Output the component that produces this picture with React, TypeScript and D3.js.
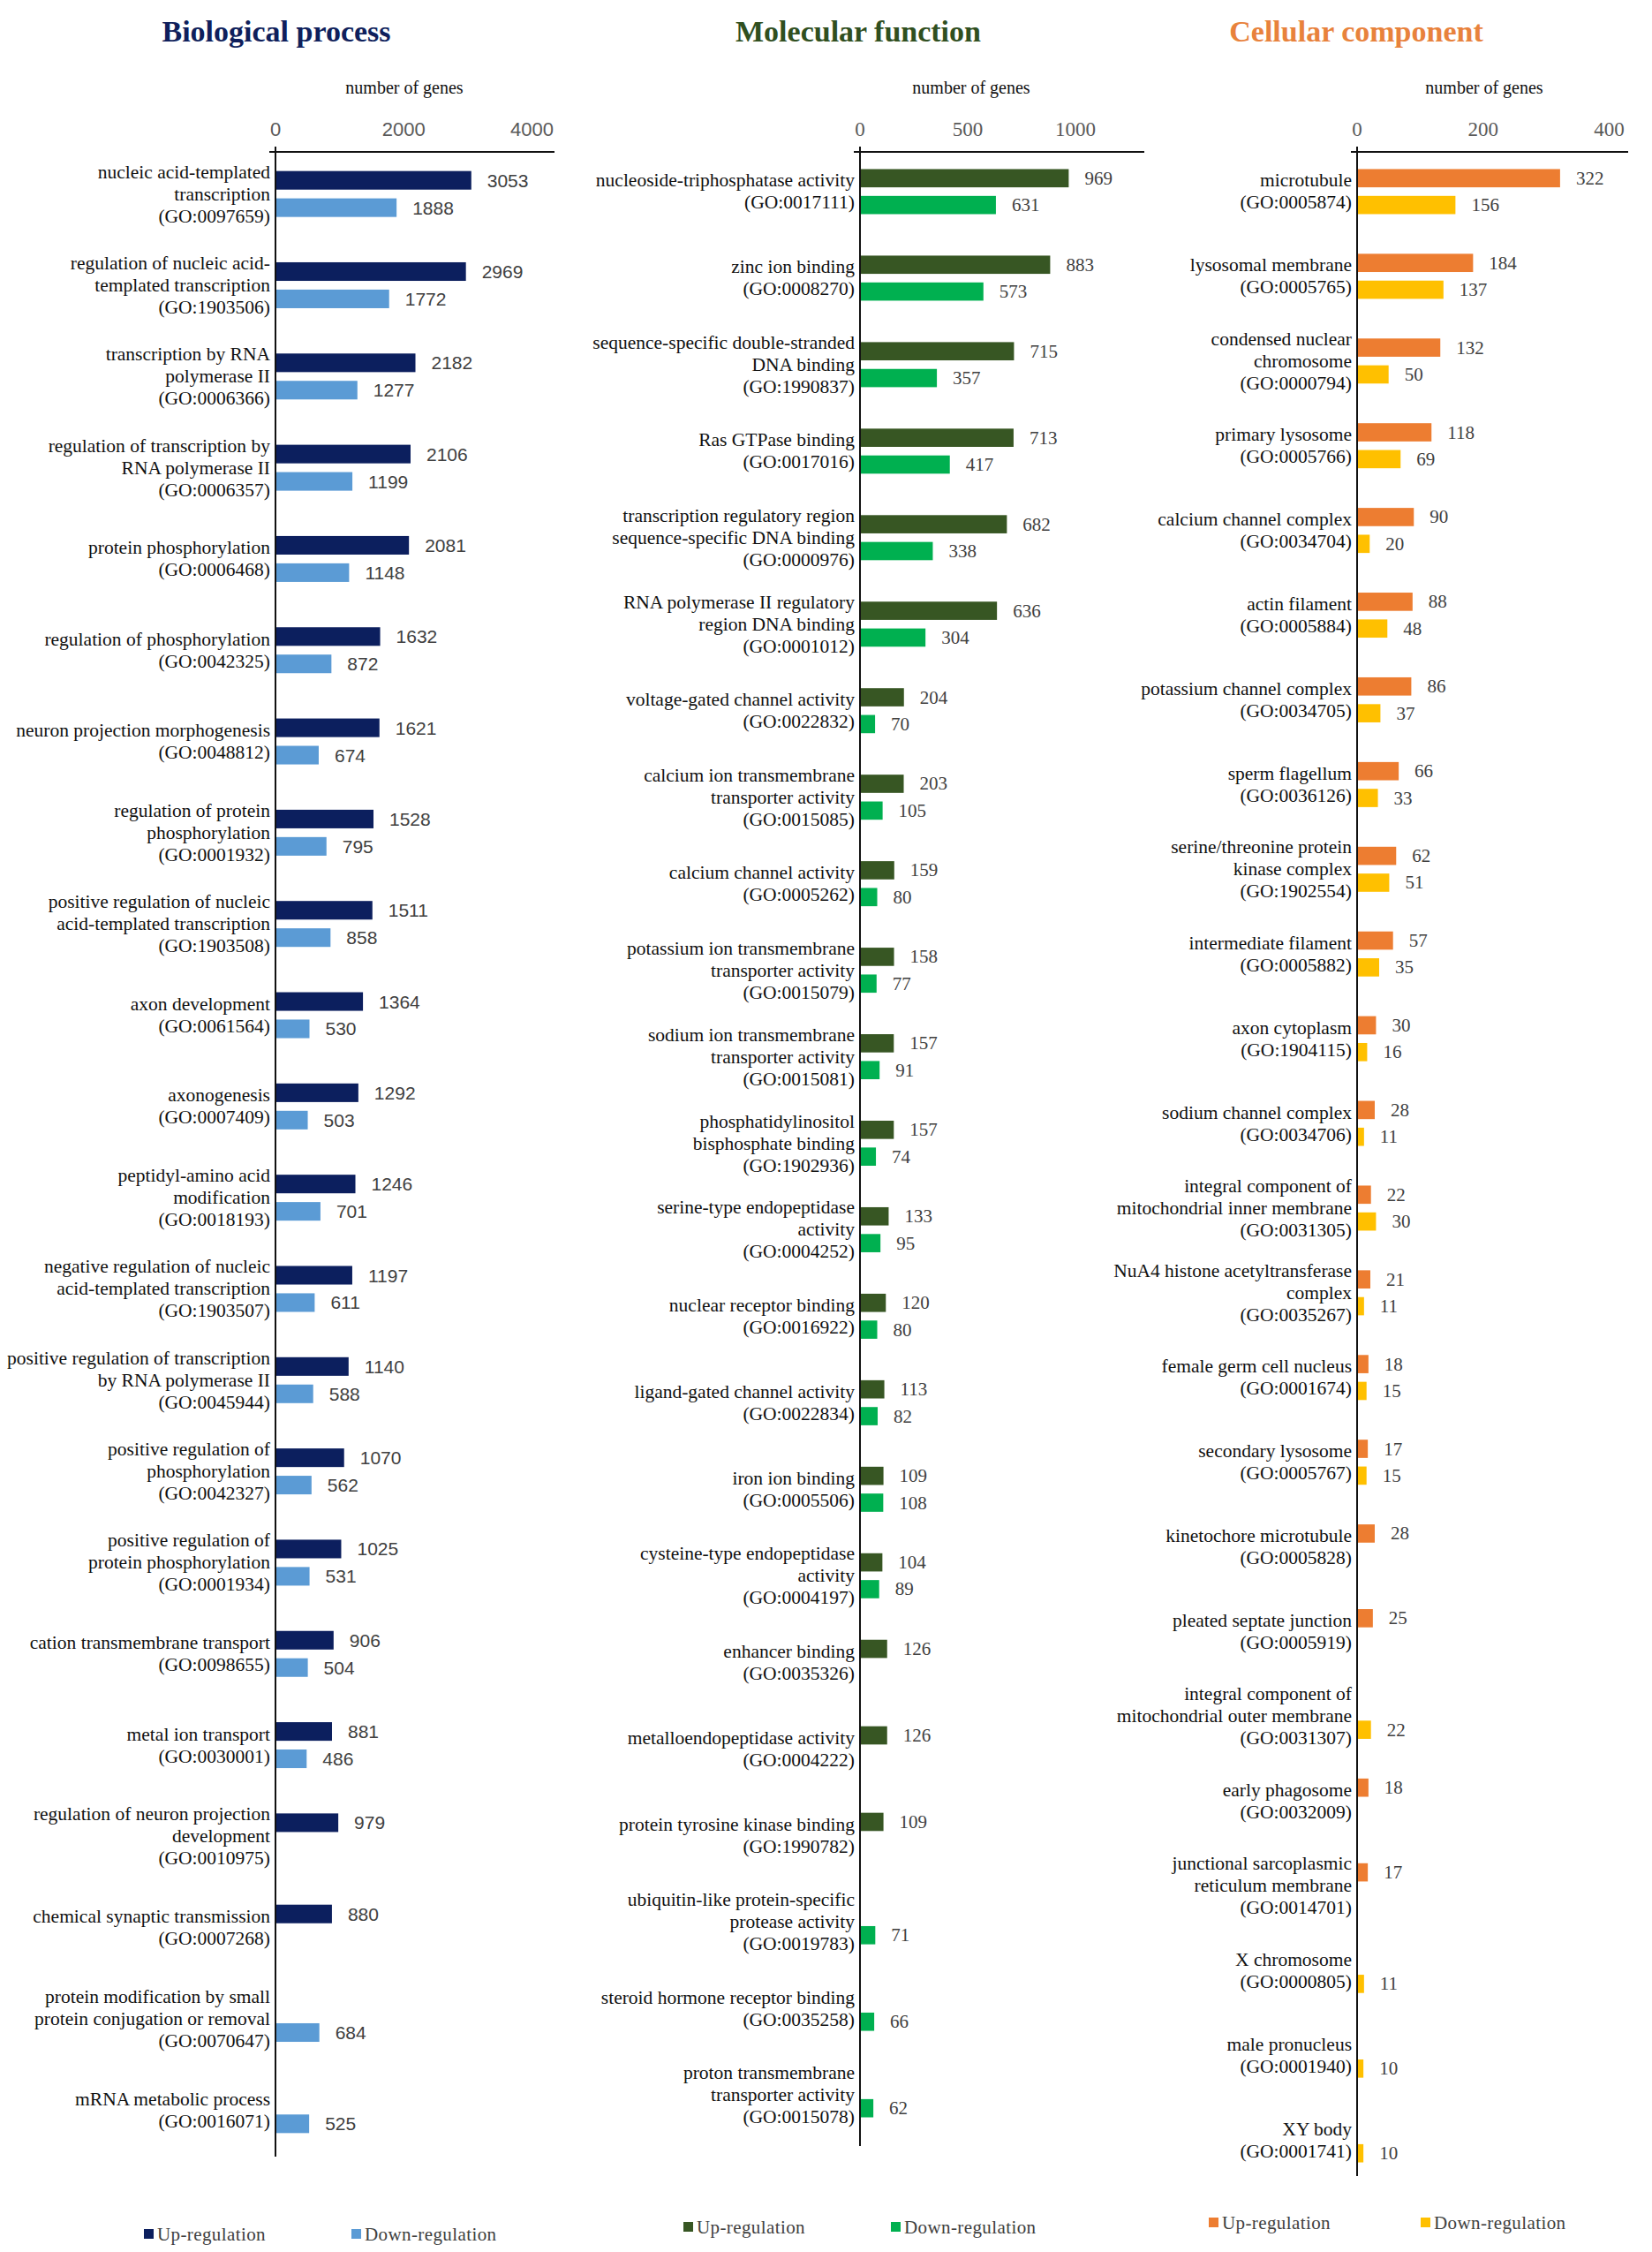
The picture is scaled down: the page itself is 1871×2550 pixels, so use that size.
import React from 'react';
import * as d3 from 'd3';

// ---- data ----
const bpTerms = [
  'nucleic acid-templated|transcription|(GO:0097659)',
  'regulation of nucleic acid-|templated transcription|(GO:1903506)',
  'transcription by RNA|polymerase II|(GO:0006366)',
  'regulation of transcription by|RNA polymerase II|(GO:0006357)',
  'protein phosphorylation|(GO:0006468)',
  'regulation of phosphorylation|(GO:0042325)',
  'neuron projection morphogenesis|(GO:0048812)',
  'regulation of protein|phosphorylation|(GO:0001932)',
  'positive regulation of nucleic|acid-templated transcription|(GO:1903508)',
  'axon development|(GO:0061564)',
  'axonogenesis|(GO:0007409)',
  'peptidyl-amino acid|modification|(GO:0018193)',
  'negative regulation of nucleic|acid-templated transcription|(GO:1903507)',
  'positive regulation of transcription|by RNA polymerase II|(GO:0045944)',
  'positive regulation of|phosphorylation|(GO:0042327)',
  'positive regulation of|protein phosphorylation|(GO:0001934)',
  'cation transmembrane transport|(GO:0098655)',
  'metal ion transport|(GO:0030001)',
  'regulation of neuron projection|development|(GO:0010975)',
  'chemical synaptic transmission|(GO:0007268)',
  'protein modification by small|protein conjugation or removal|(GO:0070647)',
  'mRNA metabolic process|(GO:0016071)',
];
const bpUp = [3053, 2969, 2182, 2106, 2081, 1632, 1621, 1528, 1511, 1364, 1292, 1246, 1197, 1140, 1070, 1025, 906, 881, 979, 880, null, null];
const bpDown = [1888, 1772, 1277, 1199, 1148, 872, 674, 795, 858, 530, 503, 701, 611, 588, 562, 531, 504, 486, null, null, 684, 525];
const bpTicks = [0, 2000, 4000];

const mfTerms = [
  'nucleoside-triphosphatase activity|(GO:0017111)',
  'zinc ion binding|(GO:0008270)',
  'sequence-specific double-stranded|DNA binding|(GO:1990837)',
  'Ras GTPase binding|(GO:0017016)',
  'transcription regulatory region|sequence-specific DNA binding|(GO:0000976)',
  'RNA polymerase II regulatory|region DNA binding|(GO:0001012)',
  'voltage-gated channel activity|(GO:0022832)',
  'calcium ion transmembrane|transporter activity|(GO:0015085)',
  'calcium channel activity|(GO:0005262)',
  'potassium ion transmembrane|transporter activity|(GO:0015079)',
  'sodium ion transmembrane|transporter activity|(GO:0015081)',
  'phosphatidylinositol|bisphosphate binding|(GO:1902936)',
  'serine-type endopeptidase|activity|(GO:0004252)',
  'nuclear receptor binding|(GO:0016922)',
  'ligand-gated channel activity|(GO:0022834)',
  'iron ion binding|(GO:0005506)',
  'cysteine-type endopeptidase|activity|(GO:0004197)',
  'enhancer binding|(GO:0035326)',
  'metalloendopeptidase activity|(GO:0004222)',
  'protein tyrosine kinase binding|(GO:1990782)',
  'ubiquitin-like protein-specific|protease activity|(GO:0019783)',
  'steroid hormone receptor binding|(GO:0035258)',
  'proton transmembrane|transporter activity|(GO:0015078)',
];
const mfUp = [969, 883, 715, 713, 682, 636, 204, 203, 159, 158, 157, 157, 133, 120, 113, 109, 104, 126, 126, 109, null, null, null];
const mfDown = [631, 573, 357, 417, 338, 304, 70, 105, 80, 77, 91, 74, 95, 80, 82, 108, 89, null, null, null, 71, 66, 62];
const mfTicks = [0, 500, 1000];

const ccTerms = [
  'microtubule|(GO:0005874)',
  'lysosomal membrane|(GO:0005765)',
  'condensed nuclear|chromosome|(GO:0000794)',
  'primary lysosome|(GO:0005766)',
  'calcium channel complex|(GO:0034704)',
  'actin filament|(GO:0005884)',
  'potassium channel complex|(GO:0034705)',
  'sperm flagellum|(GO:0036126)',
  'serine/threonine protein|kinase complex|(GO:1902554)',
  'intermediate filament|(GO:0005882)',
  'axon cytoplasm|(GO:1904115)',
  'sodium channel complex|(GO:0034706)',
  'integral component of|mitochondrial inner membrane|(GO:0031305)',
  'NuA4 histone acetyltransferase|complex|(GO:0035267)',
  'female germ cell nucleus|(GO:0001674)',
  'secondary lysosome|(GO:0005767)',
  'kinetochore microtubule|(GO:0005828)',
  'pleated septate junction|(GO:0005919)',
  'integral component of|mitochondrial outer membrane|(GO:0031307)',
  'early phagosome|(GO:0032009)',
  'junctional sarcoplasmic|reticulum membrane|(GO:0014701)',
  'X chromosome|(GO:0000805)',
  'male pronucleus|(GO:0001940)',
  'XY body|(GO:0001741)',
];
const ccUp = [322, 184, 132, 118, 90, 88, 86, 66, 62, 57, 30, 28, 22, 21, 18, 17, 28, 25, null, 18, 17, null, null, null];
const ccDown = [156, 137, 50, 69, 20, 48, 37, 33, 51, 35, 16, 11, 30, 11, 15, 15, null, null, 22, null, null, 11, 10, 10];
const ccTicks = [0, 200, 400];

const legendNames = ['Up-regulation', 'Down-regulation'];

const SERIF = "'Liberation Serif', 'Times New Roman', serif";
const SANS = "'Liberation Sans', Arial, sans-serif";

const panels = [
  {
    title: 'Biological process', titleColor: '#0f1f5c', titleX: 313,
    terms: bpTerms, up: bpUp, down: bpDown, ticks: bpTicks,
    colors: ['#0c1f5e', '#5b9bd5'],
    x0: 312, max: 4350, x1: 628, yTop: 168, yBottom: 2441, axisBottom: 2442,
    subHalf: 26, numFont: SANS, numSize: 21, tickFont: SANS, tickSize: 22,
    axisTitleX: 458, legendY: 2530, legendX: [163, 398],
  },
  {
    title: 'Molecular function', titleColor: '#304f1f', titleX: 972,
    terms: mfTerms, up: mfUp, down: mfDown, ticks: mfTicks,
    colors: ['#375623', '#00b050'],
    x0: 974, max: 1320, x1: 1296, yTop: 168, yBottom: 2421, axisBottom: 2430,
    subHalf: 25.5, numFont: SERIF, numSize: 21, tickFont: SERIF, tickSize: 23,
    axisTitleX: 1100, legendY: 2522, legendX: [774, 1009],
  },
  {
    title: 'Cellular component', titleColor: '#e8823c', titleX: 1536,
    terms: ccTerms, up: ccUp, down: ccDown, ticks: ccTicks,
    colors: ['#ed7d31', '#ffc000'],
    x0: 1537, max: 430, x1: 1844, yTop: 169, yBottom: 2471, axisBottom: 2464,
    subHalf: 25.5, numFont: SERIF, numSize: 21, tickFont: SERIF, tickSize: 23,
    axisTitleX: 1681, legendY: 2517, legendX: [1369, 1609],
  },
];

function Panel({ p }: { p: any }) {
  const x = d3.scaleLinear().domain([0, p.max]).range([p.x0, p.x1]);
  const y = d3.scaleBand<number>().domain(d3.range(p.terms.length)).range([p.yTop, p.yBottom]);
  const sub = d3.scaleBand<string>().domain(['up', 'down']).range([-p.subHalf, p.subHalf]).paddingInner(0.32);
  const axisY = 172;
  const lineH = 25;

  return (
    <g>
      <text x={p.titleX} y={47} textAnchor="middle" fontFamily={SERIF} fontWeight="bold"
        fontSize={34} fill={p.titleColor}>{p.title}</text>
      <text x={p.axisTitleX} y={106} textAnchor="middle" fontFamily={SERIF} fontSize={20}
        fill="#111">number of genes</text>
      {p.ticks.map((t: number) => (
        <text key={t} x={x(t)} y={154} textAnchor="middle" fontFamily={p.tickFont}
          fontSize={p.tickSize} fill="#595959">{t}</text>
      ))}
      <line x1={p.x0 - 7} x2={p.x1} y1={axisY} y2={axisY} stroke="#111" strokeWidth={2} />

      {p.terms.map((term: string, i: number) => {
        const cy = (y(i) as number) + y.bandwidth() / 2;
        const lines = term.split('|');
        const vals = [p.up[i], p.down[i]];
        return (
          <g key={i}>
            {lines.map((ln, k) => (
              <text key={k} x={p.x0 - 6} y={cy + (k - (lines.length - 1) / 2) * lineH}
                dominantBaseline="central" textAnchor="end" fontFamily={SERIF} fontSize={21.5}
                fill="#111">{ln}</text>
            ))}
            {(['up', 'down'] as const).map((s, k) => {
              const v = vals[k];
              if (v == null) return null;
              const by = cy + (sub(s) as number);
              return (
                <g key={s}>
                  <rect x={p.x0} y={by} width={x(v) - p.x0} height={sub.bandwidth()} fill={p.colors[k]} />
                  <text x={x(v) + 18} y={by + sub.bandwidth() / 2} dominantBaseline="central"
                    fontFamily={p.numFont} fontSize={p.numSize} fill="#404040">{v}</text>
                </g>
              );
            })}
          </g>
        );
      })}

      <line x1={p.x0} x2={p.x0} y1={166} y2={p.axisBottom} stroke="#111" strokeWidth={2} />

      {legendNames.map((name, k) => (
        <g key={name}>
          <rect x={p.legendX[k]} y={p.legendY - 6} width={11} height={11} fill={p.colors[k]} />
          <text x={p.legendX[k] + 15} y={p.legendY} dominantBaseline="central" fontFamily={SERIF}
            fontSize={21} fill="#404040" letterSpacing={0.4}>{name}</text>
        </g>
      ))}
    </g>
  );
}

export default function App() {
  return (
    <svg width={1871} height={2550} viewBox="0 0 1871 2550"
      style={{ position: 'absolute', left: 0, top: 0, background: '#fff' }}>
      <rect width={1871} height={2550} fill="#fff" />
      {panels.map((p) => <Panel key={p.title} p={p} />)}
    </svg>
  );
}
